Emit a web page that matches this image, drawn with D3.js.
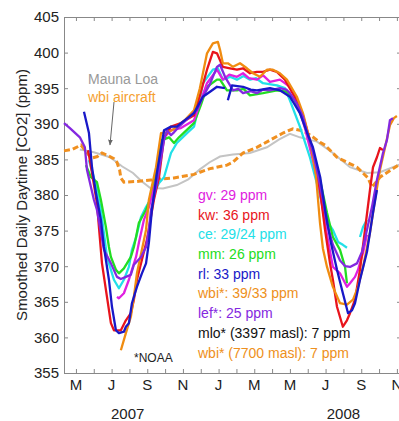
<!DOCTYPE html>
<html>
<head>
<meta charset="utf-8">
<script src="https://cdn.jsdelivr.net/npm/d3@7"></script>
<style>
  body { margin: 0; background: #fff; }
  text { font-family: "Liberation Sans", Arial, sans-serif; }
</style>
</head>
<body>
<div id="chart"></div>
<script>
// x values are months counted from Jan 2007 (4 = May 2007), y values are ppm
const monthTicks = d3.range(4, 23);
const monthLabels = ["M", "J", "S", "N", "J", "M", "M", "J", "S", "N"];
const labelMonths = [4, 6, 8, 10, 12, 14, 16, 18, 20, 22];
const ppmTicks = [355, 360, 365, 370, 375, 380, 385, 390, 395, 400, 405];
const years = [["2007", 6.9], ["2008", 19.0]];

const mlo = [[4.22,386.4],[5.0,386.0],[5.91,385.3],[6.6,384.0],[7.2,383.1],[7.7,381.9],[8.15,381.0],[8.88,380.9],[9.66,381.4],[10.3,382.2],[10.95,383.6],[11.5,384.6],[12.08,385.4],[12.8,385.7],[13.76,385.9],[14.71,386.7],[15.4,387.8],[16.0,388.6],[16.56,388.1],[17.52,387.5],[18.41,385.9],[19.37,383.9],[20.32,383.1],[21.05,383.2],[22.2,384.3]];

const wbiAircraft = [[3.33,386.2],[3.8,386.4],[4.28,387.0],[4.73,385.6],[4.9,385.2],[5.2,385.4],[5.46,385.9],[5.74,385.6],[6.13,385.1],[6.3,384.6],[6.45,383.5],[6.52,382.4],[6.69,381.8],[7.4,381.9],[8.2,382.1],[9.5,382.4],[10.62,382.9],[10.95,383.2],[11.52,383.7],[12.47,384.2],[12.8,384.6],[13.37,385.9],[14.15,386.7],[14.88,387.7],[15.61,388.7],[16.17,389.3],[16.73,389.0],[17.2,388.3],[17.69,387.4],[17.97,387.0],[18.64,385.3],[19.2,384.6],[19.76,383.9],[20.38,382.4],[20.6,381.1],[21.05,382.5],[21.6,383.4],[22.2,384.4]];

const gv = [[6.30,365.7],[6.41,365.5],[6.69,366.2],[6.97,368.1],[7.14,369.5],[7.37,371.3],[7.53,373.3],[7.81,376.5],[8.09,378.3],[8.54,382.5],[8.94,388.1],[9.33,389.1],[9.89,389.4],[10.62,390.5],[10.9,392.5],[11.35,395.7],[11.91,397.6],[12.24,396.2],[12.6,396.9],[13.03,396.6],[13.37,397.1],[13.7,396.4],[14.15,396.2],[14.5,396.8],[14.88,395.9],[15.44,396.2],[16.0,395.2],[16.39,393.3],[16.84,389.4],[17.29,384.9],[17.69,380.3],[18.08,374.4],[18.41,369.9],[18.81,369.0],[19.2,367.1],[19.37,367.6],[19.65,368.5],[19.82,369.5],[20.1,371.9],[20.32,374.4]];

const kw = [[4.67,386.3],[4.73,385.6],[4.9,383.1],[5.18,378.8],[5.46,370.4],[5.74,365.7],[5.96,362.0],[6.13,361.0],[6.52,361.0],[6.8,362.4],[7.08,363.4],[7.25,365.3],[7.42,368.1],[7.7,370.9],[7.98,373.7],[8.37,379.3],[8.66,382.5],[8.94,388.1],[9.33,389.6],[9.89,390.1],[10.62,391.2],[10.95,394.0],[11.35,397.6],[11.68,400.1],[11.91,399.9],[12.24,398.0],[12.64,397.8],[13.03,397.6],[13.37,397.8],[13.76,397.1],[14.15,397.3],[14.49,397.3],[14.88,397.6],[15.27,397.3],[15.72,396.2],[16.1,394.5],[16.39,393.3],[16.73,391.2],[17.12,387.7],[17.46,383.5],[17.69,380.7],[17.97,375.1],[18.25,370.4],[18.41,368.1],[18.64,364.3],[18.97,361.5],[19.2,362.4],[19.37,363.4],[19.65,365.3],[19.93,369.5],[20.21,375.1],[20.49,380.7],[20.66,383.9],[20.88,385.3],[21.05,386.6],[21.22,386.3]];

const ce = [[4.73,384.9],[5.12,381.4],[5.4,377.9],[5.74,371.3],[6.13,368.1],[6.41,366.9],[6.69,368.1],[6.97,369.9],[7.14,372.3],[7.37,374.0],[7.65,376.9],[7.93,378.3],[8.26,379.7],[8.66,381.7],[8.94,382.5],[9.33,385.9],[9.66,387.3],[10.23,388.7],[10.62,389.6],[10.84,391.9],[11.12,395.7],[11.68,397.6],[11.96,397.8],[12.24,396.2],[12.64,396.6],[13.03,396.2],[13.4,396.7],[13.76,396.2],[14.1,396.4],[14.49,395.7],[15.27,395.4],[15.72,395.0],[16.0,393.3],[16.56,389.6],[17.12,385.3],[17.57,381.1],[17.85,378.3],[18.13,376.1],[18.41,375.1],[18.7,373.4],[18.97,373.0],[19.2,372.6],null,[19.93,374.1],[20.1,375.5],[20.32,376.5]];

const mm = [[4.56,384.2],[4.84,382.5],[5.18,381.8],[5.4,379.3],[5.68,375.5],[5.85,372.7],[5.96,371.3],[6.24,369.5],[6.41,369.0],[6.69,369.7],[6.86,370.4],[7.08,371.3],[7.25,372.7],[7.37,374.1],[7.53,376.1],[7.93,377.9],[8.21,379.7],[8.54,383.9],[8.82,387.7],[9.22,388.1],[9.5,387.3],[9.78,388.1],[10.62,390.1],[11.0,392.6],[11.35,395.2],[11.91,396.2],[12.08,396.2],[12.47,394.7],[13.03,394.7],[13.4,394.9],[13.76,394.0],[14.49,394.3],[15.27,394.7],[15.83,394.5],[16.28,393.3],[16.84,389.8],[17.29,385.6],[17.69,382.1],[18.08,377.5],[18.41,374.1],[18.81,372.3],[19.09,369.9],[19.2,367.6]];

const rl = [[4.45,391.7],[4.73,388.7],[4.9,383.9],[5.12,380.3],[5.4,376.5],[5.57,372.7],[5.85,368.1],[6.02,364.3],[6.24,361.0],[6.41,360.6],[6.69,360.8],[6.8,361.5],[6.97,362.0],[7.14,364.8],[7.42,367.1],[7.7,369.0],[7.93,370.4],[8.09,373.3],[8.26,377.9],[8.54,383.1],[8.94,389.1],[9.33,389.6],[9.66,389.6],[9.89,390.1],[10.62,391.5],[11.12,393.8],[11.52,394.5],[11.91,395.2],[12.36,395.0],null,[12.52,393.3],[12.75,395.4],[13.37,395.2],[13.8,394.8],[14.15,394.7],[14.88,395.0],[15.44,394.7],[16.0,393.8],[16.56,391.5],[17.0,388.5],[17.29,386.7],[17.7,382.5],[18.0,377.5],[18.3,373.3],[18.64,369.5],[18.97,366.2],[19.26,363.4],[19.48,363.8],[19.65,364.8],[19.93,368.1],[20.32,372.0],[20.66,377.5],[20.88,380.7]];

const wbi = [[6.52,358.2],[6.8,360.6],[7.08,362.9],[7.25,365.7],[7.42,369.0],[7.7,372.3],[7.93,375.1],[8.09,379.3],[8.49,383.9],[8.77,388.7],[9.1,388.8],[9.4,389.1],[9.66,389.6],[10.1,390.5],[10.62,391.9],[10.95,395.0],[11.35,399.9],[11.68,401.3],[11.96,401.5],[12.08,400.4],[12.24,398.5],[12.52,398.5],[12.81,398.0],[13.2,398.5],[13.59,397.8],[13.93,397.1],[14.32,396.6],[14.71,397.6],[15.05,397.6],[15.44,397.1],[15.83,396.2],[16.39,393.8],[16.73,391.5],[17.12,387.7],[17.46,382.8],[17.69,376.0],[17.85,372.5],[18.08,369.9],[18.41,367.1],[18.81,364.8],[19.2,364.6],[19.54,365.3],[19.82,367.1],[20.1,369.9],[20.49,374.7],[20.77,379.3],[21.05,383.5],[21.3,386.3],[21.61,389.8],[21.83,390.8],[22.0,391.1]];

const lef = [[3.33,390.1],[3.66,389.4],[4.22,388.1],[4.5,386.7],[4.62,383.5],[5.01,379.3],[5.18,377.9],[5.57,372.3],[5.96,370.4],[6.3,368.5],[6.52,368.2],[6.8,368.5],[7.08,368.8],[7.25,370.2],[7.65,371.3],[7.93,372.7],[8.09,375.1],[8.21,377.9],[8.54,381.7],[8.94,387.7],[9.1,389.1],[9.33,388.4],[9.5,388.8],[9.78,389.6],[10.39,391.0],[10.8,392.0],[11.12,393.8],[11.5,395.5],[11.91,398.0],[12.08,398.3],[12.36,396.6],[12.81,394.7],[13.1,394.9],[13.37,394.3],[13.8,394.6],[14.15,394.3],[14.5,394.8],[14.88,394.7],[15.44,395.0],[15.8,394.8],[16.0,394.3],[16.4,392.8],[16.73,391.0],[17.0,388.5],[17.29,386.0],[17.6,382.5],[17.85,379.3],[18.08,376.0],[18.41,373.0],[18.81,370.8],[19.1,370.0],[19.37,369.9],[19.76,370.4],[20.04,372.0],[20.32,375.1],[20.6,378.3],[20.88,382.1],[21.22,385.9],[21.44,387.7],[21.61,390.5],[21.78,390.8]];

const legendLabels = ["gv: 29 ppm", "kw: 36 ppm", "ce: 29/24 ppm", "mm: 26 ppm", "rl: 33 ppm",
  "wbi*: 39/33 ppm", "lef*: 25 ppm", "mlo* (3397 masl): 7 ppm", "wbi* (7700 masl): 7 ppm"];
const legendColors = ["#e020e0", "#e8141c", "#22e0e8", "#22dd22", "#1818c8",
  "#ee9020", "#8428e0", "#111111", "#ee9020"];

let margin = {top: 17, right: -2, bottom: 48, left: 64};
let W = 399, H = 421;
let width = W - margin.left - margin.right;
let height = H - margin.top - margin.bottom;

const svg = d3.select("#chart").append("svg")
    .attr("width", W)
    .attr("height", H)
  .append("g")
    .attr("transform", "translate(" + margin.left + "," + margin.top + ")");

let x = d3.scaleLinear().domain([3.33, 22.23]).range([0, width]);
let y = d3.scaleLinear().domain([355, 405]).range([height, 0]);

// inward ticks on all four sides
svg.append("g").attr("transform", "translate(0," + height + ")")
  .call(d3.axisBottom(x).tickValues(monthTicks).tickSize(-4).tickFormat(""));
svg.append("g")
  .call(d3.axisTop(x).tickValues(monthTicks).tickSize(-4).tickFormat(""));
svg.append("g")
  .call(d3.axisLeft(y).tickValues(ppmTicks).tickSize(-4).tickFormat(""));
svg.append("g").attr("transform", "translate(" + width + ",0)")
  .call(d3.axisRight(y).tickValues(ppmTicks).tickSize(-4).tickFormat(""));
svg.selectAll(".domain, .tick line").attr("stroke", "#888");

svg.selectAll(".ylab").data(ppmTicks).enter().append("text")
  .attr("x", -5).attr("y", d => y(d)).attr("dy", "0.36em")
  .attr("text-anchor", "end").attr("font-size", 15).attr("fill", "#222")
  .text(d => d);

// the last month letter sits on the right edge and is clipped there, as in the original
svg.selectAll(".xlab").data(labelMonths).enter().append("text")
  .attr("x", d => x(d)).attr("y", height + 17)
  .attr("text-anchor", "middle").attr("font-size", 15).attr("fill", "#222")
  .text((d, i) => monthLabels[i]);

svg.selectAll(".year").data(years).enter().append("text")
  .attr("x", d => x(d[1])).attr("y", height + 46)
  .attr("text-anchor", "middle").attr("font-size", 15).attr("fill", "#222")
  .text(d => d[0]);

svg.append("text")
  .attr("transform", "translate(-37," + (height / 2) + ") rotate(-90)")
  .attr("text-anchor", "middle").attr("font-size", 15).attr("fill", "#222")
  .text("Smoothed Daily Daytime [CO2] (ppm)");

const line = d3.line()
  .defined(d => d !== null)
  .x(d => x(d[0])).y(d => y(d[1]));

const plot = svg.append("g");

plot.append("path").datum(mlo)
  .attr("fill", "none").attr("stroke", "#c4c4c4").attr("stroke-width", 2)
  .attr("d", line);
plot.append("path").datum(wbiAircraft)
  .attr("fill", "none").attr("stroke", "#f09020").attr("stroke-width", 3)
  .attr("stroke-dasharray", "6,3")
  .attr("d", line);

const series = [
  [ce, "#22e0e8"], [mm, "#22dd22"], [gv, "#e020e0"], [kw, "#e8141c"],
  [wbi, "#f08c10"], [lef, "#8428e0"], [rl, "#1818c8"]
];
series.forEach(s => {
  plot.append("path").datum(s[0])
    .attr("fill", "none").attr("stroke", s[1]).attr("stroke-width", 2.3)
    .attr("stroke-linejoin", "round")
    .attr("d", line);
});

// legend
svg.selectAll(".leg").data(legendLabels).enter().append("text")
  .attr("x", 134).attr("y", (d, i) => 178 + i * 19.7).attr("dy", "0.35em")
  .attr("font-size", 14).attr("fill", (d, i) => legendColors[i])
  .text(d => d);

// annotations
svg.append("text").attr("x", 24).attr("y", 67)
  .attr("font-size", 14).attr("fill", "#999").text("Mauna Loa");
svg.append("text").attr("x", 24).attr("y", 85)
  .attr("font-size", 14).attr("fill", "#f5a030").text("wbi aircraft");

svg.append("defs").append("marker")
  .attr("id", "arr").attr("viewBox", "0 0 10 10").attr("refX", 9).attr("refY", 5)
  .attr("markerWidth", 6).attr("markerHeight", 6).attr("orient", "auto")
  .append("path").attr("d", "M0,1 L10,5 L0,9 Z").attr("fill", "#666");
svg.append("line")
  .attr("x1", 50).attr("y1", 85).attr("x2", 46).attr("y2", 128)
  .attr("stroke", "#666").attr("stroke-width", 1).attr("marker-end", "url(#arr)");

svg.append("text").attr("x", 70).attr("y", 345)
  .attr("font-size", 12).attr("fill", "#222").text("*NOAA");
</script>
</body>
</html>
